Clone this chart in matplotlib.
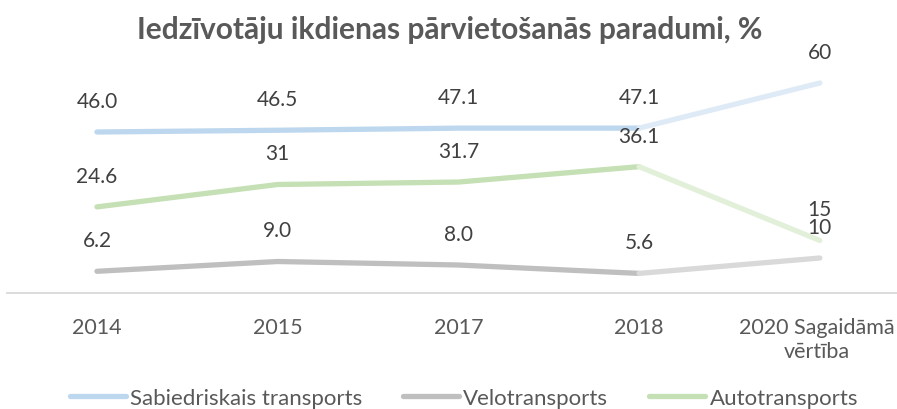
import matplotlib
matplotlib.use("Agg")
import matplotlib.pyplot as plt

categories = ["2014", "2015", "2017", "2018", "2020 Sagaidāmā\nvērtība"]
series_names = ["Sabiedriskais transports", "Velotransports", "Autotransports"]
sabiedriskais = [46.0, 46.5, 47.1, 47.1, 60]
velo = [6.2, 9.0, 8.0, 5.6, 10]
auto = [24.6, 31, 31.7, 36.1, 15]
labels_sab = ["46.0", "46.5", "47.1", "47.1", "60"]
labels_velo = ["6.2", "9.0", "8.0", "5.6", "10"]
labels_auto = ["24.6", "31", "31.7", "36.1", "15"]
title = "Iedzīvotāju ikdienas pārvietošanās paradumi, %"

colors = ["#BDD7EE", "#BFBFBF", "#C5E0B4"]
faded = ["#DEEBF7", "#D9D9D9", "#E2F0D9"]

plt.rcParams['font.family'] = ['Lato', 'DejaVu Sans']

fig = plt.figure(figsize=(8.97, 4.10), dpi=100)
ax = fig.add_axes([6.6 / 897, (410 - 294) / 410, 903.6 / 897, 245 / 410])

x = list(range(len(categories)))
data = [sabiedriskais, velo, auto]
labels = [labels_sab, labels_velo, labels_auto]
for vals, labs, c, fc, name in zip(data, labels, colors, faded, series_names):
    ax.plot(x[:4], vals[:4], color=c, lw=3.8, solid_capstyle='round', solid_joinstyle='round', label=name)
    ax.plot(x[3:], vals[3:], color=fc, lw=3.8, solid_capstyle='round', solid_joinstyle='round')
    for xi, v, t in zip(x, vals, labs):
        ax.annotate(t, (xi, v), xytext=(0, 31 * 0.72), textcoords='offset points',
                    ha='center', va='center', fontsize=15, color='#404040')

ax.set_xlim(-0.5, 4.5)
ax.set_ylim(0, 70)
ax.set_yticks([])
ax.set_xticks(x[:4])
ax.set_xticklabels(categories[:4], fontsize=15.5, color='#595959')
ax.tick_params(axis='x', length=0, pad=17)
for s in ['top', 'right', 'left']:
    ax.spines[s].set_visible(False)
ax.spines['bottom'].set_color('#D9D9D9')
ax.spines['bottom'].set_linewidth(1.3)

# last category label, kept inside the picture
fig.text(895 / 897, 1 - (294 + 17 * 100 / 72) / 410, categories[4], ha='right', va='top',
         multialignment='center', fontsize=15.5, color='#595959', linespacing=1.25)

fig.text(450 / 897, 1 - 30 / 410, title, ha='center', va='center', fontsize=21.5,
         fontweight='bold', color='#595959')

leg = fig.legend(loc='center', bbox_to_anchor=(464 / 897, 1 - 399 / 410), ncol=3, frameon=False,
                 fontsize=16, handlelength=2.5, handletextpad=0.2, columnspacing=1.85)
for t in leg.get_texts():
    t.set_color('#595959')
for h in leg.get_lines():
    h.set_linewidth(3.8)
    h.set_solid_capstyle('round')

fig.savefig("out.png", dpi=100)
